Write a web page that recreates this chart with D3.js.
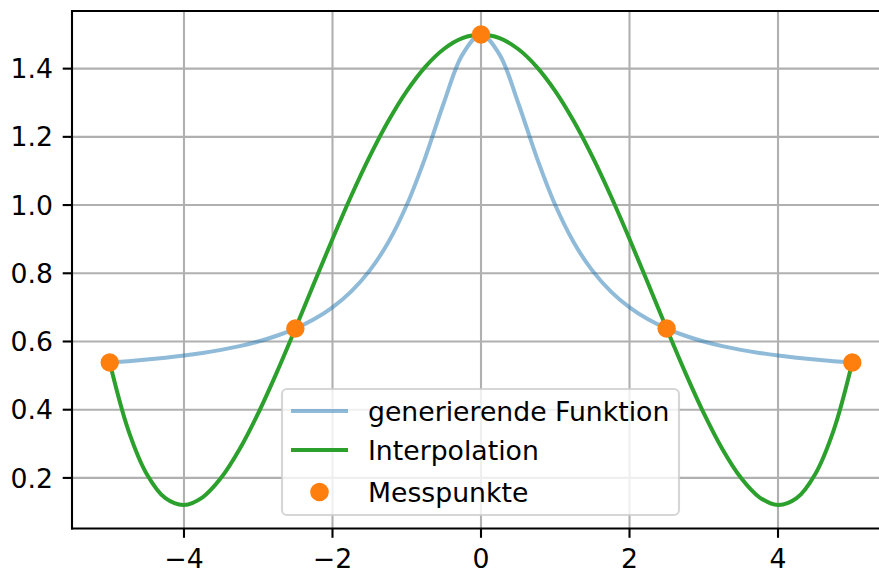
<!DOCTYPE html>
<html><head><meta charset="utf-8">
<script src="https://cdn.jsdelivr.net/npm/d3@7"></script>
<style>body{margin:0;background:#fff}svg{display:block;font-family:"DejaVu Sans",sans-serif}</style>
</head><body>
<svg id="c" width="879" height="571"></svg>
<script>
const xSamples = [-5,-4.75,-4.5,-4.25,-4,-3.75,-3.5,-3.25,-3,-2.75,-2.5,-2.25,-2,-1.75,-1.5,-1.25,-1,-0.75,-0.5,-0.25,0,0.25,0.5,0.75,1,1.25,1.5,1.75,2,2.25,2.5,2.75,3,3.25,3.5,3.75,4,4.25,4.5,4.75,5];
const genValues = [0.5385,0.5424,0.5471,0.5525,0.5588,0.5664,0.5755,0.5865,0.6,0.6168,0.6379,0.6649,0.7,0.7462,0.8077,0.8902,1.0,1.14,1.3,1.4412,1.5,1.4412,1.3,1.14,1.0,0.8902,0.8077,0.7462,0.7,0.6649,0.6379,0.6168,0.6,0.5865,0.5755,0.5664,0.5588,0.5525,0.5471,0.5424,0.5385];
const interpValues = [0.5385,0.3404,0.2109,0.1405,0.1207,0.1432,0.2003,0.2848,0.3899,0.5096,0.6379,0.7698,0.9005,1.0258,1.1419,1.2456,1.3342,1.4054,1.4576,1.4893,1.5,1.4893,1.4576,1.4054,1.3342,1.2456,1.1419,1.0258,0.9005,0.7698,0.6379,0.5096,0.3899,0.2848,0.2003,0.1432,0.1207,0.1405,0.2109,0.3404,0.5385];
const pointX = [-5,-2.5,0,2.5,5];
const pointY = [0.5385,0.6379,1.5,0.6379,0.5385];
const xTicks = [-4,-2,0,2,4];
const yTicks = [0.2,0.4,0.6,0.8,1.0,1.2,1.4];
const legendLabels = ["generierende Funktion","Interpolation","Messpunkte"];

const svg = d3.select("#c");
const x = d3.scaleLinear().domain([-5.5,5.5]).range([72.6,889.4]);
const y = d3.scaleLinear().domain([0.0517,1.569]).range([528.5,11]);
const L=72, R=879, T=11, B=528.5;
const FS = 26.7;

// grid
const g = svg.append("g");
g.selectAll("line.gx").data(xTicks).join("line")
  .attr("x1",d=>x(d)).attr("x2",d=>x(d)).attr("y1",T).attr("y2",B)
  .attr("stroke","#b0b0b0").attr("stroke-width",2.1);
g.selectAll("line.gy").data(yTicks).join("line")
  .attr("y1",d=>y(d)).attr("y2",d=>y(d)).attr("x1",L).attr("x2",R)
  .attr("stroke","#b0b0b0").attr("stroke-width",2.1);

// lines
const genData = xSamples.map((d,i)=>[d,genValues[i]]);
const intData = xSamples.map((d,i)=>[d,interpValues[i]]);
const line = d3.line().x(d=>x(d[0])).y(d=>y(d[1])).curve(d3.curveCatmullRom.alpha(0.5));
svg.append("path").attr("d",line(genData)).attr("fill","none")
  .attr("stroke","#1f77b4").attr("stroke-opacity",0.5).attr("stroke-width",4);
svg.append("path").attr("d",line(intData)).attr("fill","none")
  .attr("stroke","#2ca02c").attr("stroke-width",4);
svg.selectAll("circle.p").data(pointX).join("circle")
  .attr("cx",d=>x(d)).attr("cy",(d,i)=>y(pointY[i])).attr("r",9.2).attr("fill","#ff7f0e");

// spines
svg.append("line").attr("x1",L).attr("x2",L).attr("y1",T-1).attr("y2",B+1).attr("stroke","#000").attr("stroke-width",2.1);
svg.append("line").attr("x1",L-1).attr("x2",R).attr("y1",B).attr("y2",B).attr("stroke","#000").attr("stroke-width",2.1);
svg.append("line").attr("x1",L-1).attr("x2",R).attr("y1",T).attr("y2",T).attr("stroke","#000").attr("stroke-width",2.1);

// ticks
svg.selectAll("line.tx").data(xTicks).join("line")
  .attr("x1",d=>x(d)).attr("x2",d=>x(d)).attr("y1",B).attr("y2",B+9.3).attr("stroke","#000").attr("stroke-width",2.1);
svg.selectAll("text.tx").data(xTicks).join("text")
  .attr("x",d=>x(d)).attr("y",567.5).attr("text-anchor","middle").attr("font-size",FS)
  .text(d=>d<0?"\u2212"+Math.abs(d):String(d));
svg.selectAll("line.ty").data(yTicks).join("line")
  .attr("x1",L-9.3).attr("x2",L).attr("y1",d=>y(d)).attr("y2",d=>y(d)).attr("stroke","#000").attr("stroke-width",2.1);
svg.selectAll("text.ty").data(yTicks).join("text")
  .attr("x",L-19).attr("y",d=>y(d)).attr("dy","0.36em").attr("text-anchor","end").attr("font-size",FS)
  .text(d=>d.toFixed(1));

// legend
const lg = svg.append("g");
lg.append("rect").attr("x",282).attr("y",389).attr("width",397).attr("height",126).attr("rx",5)
  .attr("fill","#fff").attr("fill-opacity",0.8).attr("stroke","#cccccc").attr("stroke-opacity",0.8).attr("stroke-width",2.1);
const rowsY=[411,450,492];
lg.append("line").attr("x1",291).attr("x2",348).attr("y1",rowsY[0]).attr("y2",rowsY[0]).attr("stroke","#1f77b4").attr("stroke-opacity",0.5).attr("stroke-width",4);
lg.append("line").attr("x1",291).attr("x2",348).attr("y1",rowsY[1]).attr("y2",rowsY[1]).attr("stroke","#2ca02c").attr("stroke-width",4);
lg.append("circle").attr("cx",319.5).attr("cy",rowsY[2]).attr("r",9.3).attr("fill","#ff7f0e");
lg.selectAll("text").data(legendLabels).join("text")
  .attr("x",368).attr("y",(d,i)=>rowsY[i]).attr("dy","0.36em").attr("font-size",FS).text(d=>d);
</script>
</body></html>
